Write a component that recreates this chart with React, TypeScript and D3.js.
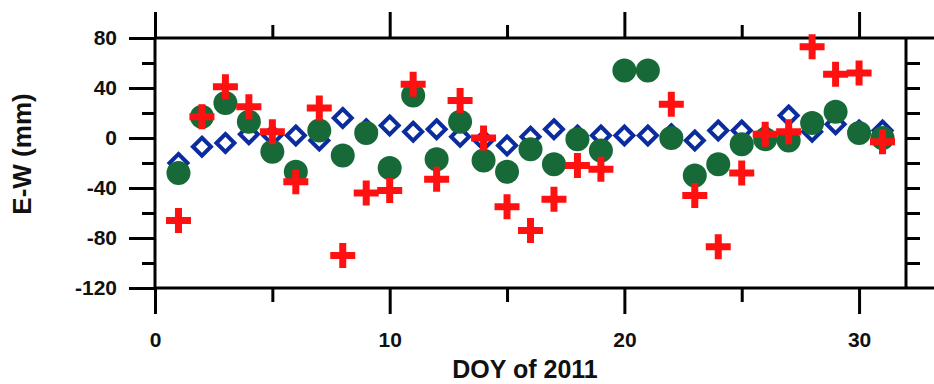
import React, { useEffect, useRef } from 'react';
import * as d3 from 'd3';

// day of year
const days = [1, 2, 3, 4, 5, 6, 7, 8, 9, 10, 11, 12, 13, 14, 15, 16, 17, 18, 19, 20, 21, 22, 23, 24, 25, 26, 27, 28, 29, 30, 31];

// blue open diamonds
const diamondVals = [-20, -7, -4, 3, 2, 2, -2, 16, 7, 10, 5, 7, 1, -2, -6, 1, 7, 2, 2, 2, 2, 3, -2, 6, 6, 2, 18, 5, 11, 6, 6];
// green filled circles
const circleVals = [-28, 17, 28, 13, -11, -27, 6, -14, 4, -24, 34, -17, 13, -18, -27, -9, -21, -1, -10, 54, 54, 0, -30, -21, -5, -1, -2, 12, 21, 4, 0];
// red crosses (none on day 20 and 21)
const plusVals: (number | null)[] = [-66, 17, 41, 25, 5, -35, 24, -94, -44, -42, 43, -33, 30, 0, -55, -74, -49, -22, -25, null, null, 27, -46, -87, -28, 3, 5, 73, 51, 52, -3];

const xMajorTicks = [0, 10, 20, 30];
const xMinorTicks = [5, 15, 25];
const yMajorTicks = [-120, -80, -40, 0, 40, 80];
const yMinorTicks = [-100, -60, -20, 20, 60];
const yRightTicks = [-100, -80, -60, -40, -20, 0, 20, 40, 60];

const W = 934;
const H = 384;
const left = 155, right = 906, top = 38, bottom = 288;
const font = '"Liberation Sans", Arial, sans-serif';

export default function App() {
  const ref = useRef<SVGSVGElement>(null);

  useEffect(() => {
    const svg = d3.select(ref.current);
    svg.selectAll('*').remove();

    const x = d3.scaleLinear().domain([0, 32]).range([left, right]);
    const y = d3.scaleLinear().domain([-120, 80]).range([bottom, top]);
    const fmt = (d: any) => String(d);

    const styleAxis = (g: any) => {
      g.selectAll('line').attr('stroke', '#000').attr('stroke-width', 3);
      g.selectAll('path.domain').remove();
      g.selectAll('text')
        .attr('font-family', font)
        .attr('font-weight', 'bold')
        .attr('font-size', 21)
        .attr('fill', '#111');
    };

    // left axis
    svg.append('g').attr('transform', `translate(${left},0)`)
      .call(d3.axisLeft(y).tickValues(yMajorTicks).tickSize(26).tickPadding(12).tickFormat(fmt))
      .call(styleAxis);
    svg.append('g').attr('transform', `translate(${left},0)`)
      .call(d3.axisLeft(y).tickValues(yMinorTicks).tickSize(13).tickFormat(() => ''))
      .call(styleAxis);

    // right axis
    svg.append('g').attr('transform', `translate(${right},0)`)
      .call(d3.axisRight(y).tickValues(yRightTicks).tickSize(14).tickFormat(() => ''))
      .call(styleAxis);

    // top axis
    svg.append('g').attr('transform', `translate(0,${top})`)
      .call(d3.axisTop(x).tickValues(xMajorTicks).tickSize(26).tickFormat(() => ''))
      .call(styleAxis);
    svg.append('g').attr('transform', `translate(0,${top})`)
      .call(d3.axisTop(x).tickValues(xMinorTicks).tickSize(13).tickFormat(() => ''))
      .call(styleAxis);

    // bottom axis
    svg.append('g').attr('transform', `translate(0,${bottom})`)
      .call(d3.axisBottom(x).tickValues(xMajorTicks).tickSize(26).tickPadding(18).tickFormat(fmt))
      .call(styleAxis);
    svg.append('g').attr('transform', `translate(0,${bottom})`)
      .call(d3.axisBottom(x).tickValues(xMinorTicks).tickSize(14).tickFormat(() => ''))
      .call(styleAxis);

    // frame lines
    const frame = svg.append('g').attr('stroke', '#000').attr('stroke-width', 3);
    frame.append('line').attr('x1', left).attr('x2', W).attr('y1', y(80)).attr('y2', y(80));
    frame.append('line').attr('x1', left).attr('x2', W).attr('y1', y(-120)).attr('y2', y(-120));
    frame.append('line').attr('x1', left).attr('x2', left).attr('y1', y(80)).attr('y2', y(-120));
    frame.append('line').attr('x1', right).attr('x2', right).attr('y1', y(80)).attr('y2', y(-120));

    // diamonds
    const dh = 9;
    svg.append('g').selectAll('path')
      .data(days.map((d, i) => ({ d, v: diamondVals[i] })))
      .join('path')
      .attr('d', p => {
        const cx = x(p.d), cy = y(p.v);
        return `M${cx},${cy - dh}L${cx + dh},${cy}L${cx},${cy + dh}L${cx - dh},${cy}Z`;
      })
      .attr('fill', 'none')
      .attr('stroke', '#0b2c9e')
      .attr('stroke-width', 4);

    // circles
    svg.append('g').selectAll('circle')
      .data(days.map((d, i) => ({ d, v: circleVals[i] })))
      .join('circle')
      .attr('cx', p => x(p.d))
      .attr('cy', p => y(p.v))
      .attr('r', 12)
      .attr('fill', '#176a38');

    // crosses
    const arm = 12.5, th = 7;
    const plusData = days.map((d, i) => ({ d, v: plusVals[i] })).filter(p => p.v !== null) as { d: number; v: number }[];
    const pg = svg.append('g').attr('fill', '#ff1111');
    pg.selectAll('rect.h').data(plusData).join('rect').attr('class', 'h')
      .attr('x', p => x(p.d) - arm).attr('y', p => y(p.v) - th / 2)
      .attr('width', arm * 2).attr('height', th);
    pg.selectAll('rect.v').data(plusData).join('rect').attr('class', 'v')
      .attr('x', p => x(p.d) - th / 2).attr('y', p => y(p.v) - arm)
      .attr('width', th).attr('height', arm * 2);

    // titles
    svg.append('text')
      .attr('x', 525).attr('y', 378)
      .attr('text-anchor', 'middle')
      .attr('font-family', font).attr('font-weight', 'bold').attr('font-size', 25)
      .attr('fill', '#111')
      .text('DOY of 2011');
    svg.append('text')
      .attr('transform', 'translate(31,154) rotate(-90)')
      .attr('text-anchor', 'middle')
      .attr('font-family', font).attr('font-weight', 'bold').attr('font-size', 26)
      .attr('fill', '#111')
      .text('E-W (mm)');
  }, []);

  return (
    <svg ref={ref} width={W} height={H}
      style={{ position: 'absolute', left: 0, top: 0, background: '#fff' }} />
  );
}
